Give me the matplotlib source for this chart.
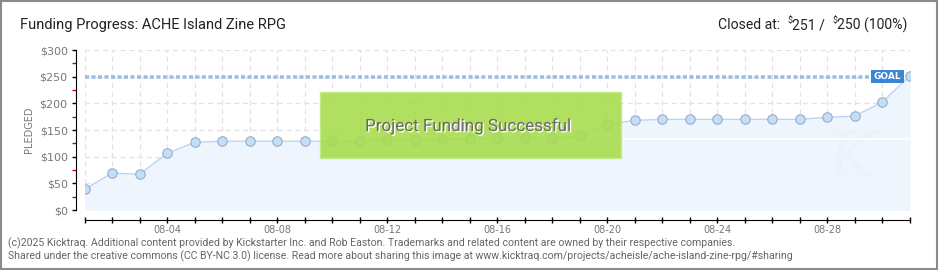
import matplotlib
matplotlib.use("Agg")
import matplotlib.pyplot as plt
from matplotlib.patches import Rectangle
import matplotlib.patheffects as pe
from matplotlib.ticker import MultipleLocator, FixedLocator, FuncFormatter

# ---- data ----
days = list(range(1, 32))  # August 2025
pledged = [39, 69, 67, 106, 127, 129, 129, 129, 129, 129, 129, 132, 132, 133, 134,
           135, 135, 135, 138, 161, 168, 170, 170, 170, 170, 170, 170, 174, 176, 202, 251]
goal = 250
label_days = [4, 8, 12, 16, 20, 24, 28]
title = "Funding Progress: ACHE Island Zine RPG"
footer1 = ("(c)2025 Kicktraq. Additional content provided by Kickstarter Inc. and Rob Easton. "
           "Trademarks and related content are owned by their respective companies.")
footer2 = ("Shared under the creative commons (CC BY-NC 3.0) license. Read more about sharing "
           "this image at www.kicktraq.com/projects/acheisle/ache-island-zine-rpg/#sharing")
banner = "Project Funding Successful"

FONT = ["Roboto", "DejaVu Sans"]
W, H = 940, 270
fig = plt.figure(figsize=(W / 100, H / 100), dpi=100)
fig.patch.set_facecolor("white")
fig.patches.append(Rectangle((0.001, 0.003), 0.996, 0.994, transform=fig.transFigure,
                             fill=False, edgecolor="#8a8a8a", linewidth=1.5))

x0, x1 = 84.5, 909.5
y0, y1 = 210, 50
ax = fig.add_axes([x0 / W, (H - y0) / H, (x1 - x0) / W, (y0 - y1) / H])
ax.set_xlim(1, 31)
ax.set_ylim(0, 300)
ax.set_facecolor("none")

# grid
for d in days:
    ax.axvline(d, color="#e2e2e2", lw=0.9, ls=(0, (4, 3)), zorder=0)
for v in range(0, 301, 50):
    ax.axhline(v, color="#e2e2e2", lw=0.9, ls=(0, (4, 3)), zorder=0)

# fill + line + markers
ax.fill_between(days, pledged, 0, color="#eef5fd", zorder=1)
ax.plot(days, pledged, color="#bcd6f2", lw=1, zorder=3)
ax.plot(days, pledged, ls="none", marker="o", ms=6.8, mfc="#c6ddf6", mec="#93aecb",
        mew=0.8, zorder=4)

# white shadow line
ax.hlines(134, 20.5, 31, color="white", lw=1.2, zorder=2)

# watermark
ax.text(0.93, 0.12, "K", transform=ax.transAxes, fontsize=46, style="italic",
        color="#ebf2fb", ha="center", va="bottom", zorder=1.5, family="DejaVu Serif")

# goal line
ax.hlines(goal, 1, 29.8, color="#9dbde2", lw=2.6, ls=(0, (1.1, 0.7)), zorder=2)
ax.text(30.2, goal, "GOAL", fontsize=6.5, color="white", fontweight="bold",
        ha="center", va="center", zorder=6,
        bbox=dict(boxstyle="square,pad=0.25", fc="#3b86d3", ec="none"))

# green banner
ax.add_patch(Rectangle((0.2855, 0.325), 0.365, 0.4125, transform=ax.transAxes,
                       facecolor="#a6dc4a", edgecolor="#c2ea7e", lw=1, alpha=0.88, zorder=5))
bt = ax.text(0.465, 0.525, banner, transform=ax.transAxes, fontsize=13, color="#6a6a6a",
             ha="center", va="center", zorder=6, family=FONT,
             path_effects=[pe.withSimplePatchShadow(offset=(1, -1), shadow_rgbFace="white",
                                                    alpha=1.0)])

# spines
for s in ["top", "right"]:
    ax.spines[s].set_visible(False)
ax.spines["left"].set_position(("outward", 6.1))
ax.spines["left"].set_bounds(0, 300)
ax.spines["bottom"].set_position(("outward", 7.2))
ax.spines["bottom"].set_bounds(1, 31)
ax.spines["left"].set_color("black")
ax.spines["bottom"].set_color("black")

ax.yaxis.set_major_locator(MultipleLocator(50))
ax.yaxis.set_minor_locator(FixedLocator([25, 75, 125, 175, 225, 275]))
ax.yaxis.set_major_formatter(FuncFormatter(lambda v, p: f"${int(v)}"))
ax.tick_params(axis="y", which="major", direction="out", length=3, width=1, color="black",
               labelsize=8, labelcolor="#777777", pad=3)
ax.tick_params(axis="y", which="minor", direction="out", length=3, width=1, color="#dd0000")

ax.xaxis.set_major_locator(FixedLocator(days))
ax.xaxis.set_major_formatter(FuncFormatter(
    lambda v, p: f"08-{int(round(v)):02d}" if int(round(v)) in label_days else ""))
ax.tick_params(axis="x", which="major", direction="inout", length=5, width=1, color="black",
               labelsize=7, labelcolor="#777777", pad=1)

ax.set_ylabel("PLEDGED", fontsize=7, color="#777777", labelpad=4)

# header
tt = fig.text(20 / W, 1 - 25 / H, title, fontsize=11, color="#222222", ha="left", va="center",
              family=FONT)

fig.canvas.draw()
r = fig.canvas.get_renderer()


def fit(t, target):
    w = t.get_window_extent(renderer=r).width
    t.set_fontsize(t.get_fontsize() * target / w)


fit(tt, 264)
fit(bt, 206)

pieces = [("Closed at:  ", 11, 0), ("$", 7, 4), ("251 /  ", 11, 0), ("$", 7, 4), ("250 (100%)", 11, 0)]
objs = []
for txt, fs, dy in pieces:
    objs.append(fig.text(0, 1 - (25 - dy) / H, txt, fontsize=fs, color="#222222", ha="left",
                         va="center", family=FONT))
total = sum(o.get_window_extent(renderer=r).width for o in objs)
scale = 189 / total
xl = 718
for o in objs:
    o.set_fontsize(o.get_fontsize() * scale)
for o in objs:
    o.set_x(xl / W)
    xl += o.get_window_extent(renderer=r).width

# footer
f1 = fig.text(8 / W, 1 - 243 / H, footer1, fontsize=6.3, color="#666666", ha="left", va="center",
              family=FONT)
f2 = fig.text(8 / W, 1 - 256 / H, footer2, fontsize=6.3, color="#666666", ha="left", va="center",
              family=FONT)
fit(f1, 725)
fit(f2, 780)

fig.savefig("out.png", dpi=100)
